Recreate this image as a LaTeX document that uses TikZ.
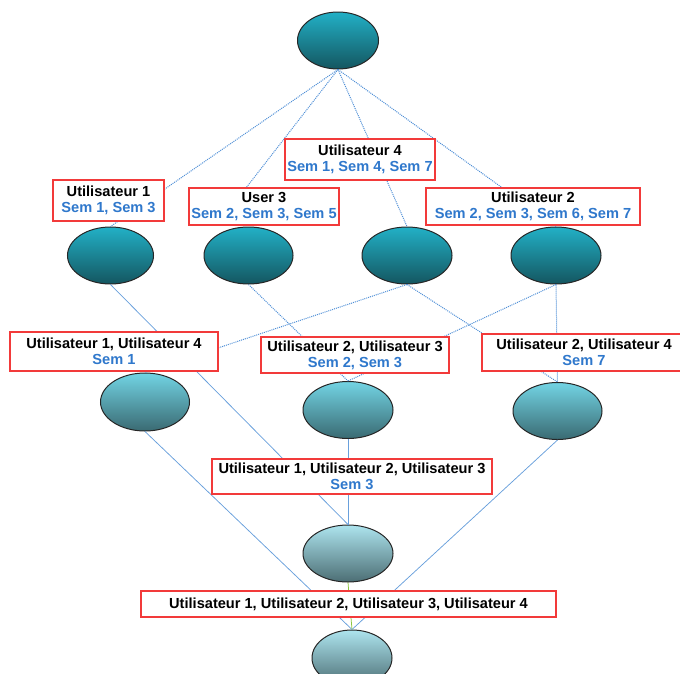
\documentclass[tikz,border=0pt]{standalone}
\usepackage{fontspec}
\setmainfont{Liberation Sans}
\usetikzlibrary{shapes.geometric}
\definecolor{edgeblue}{HTML}{4F8FD6}
\definecolor{edgegreen}{HTML}{8CC63F}
\definecolor{boxred}{HTML}{F23A3A}
\definecolor{semblue}{HTML}{2F78CC}
\definecolor{aTop}{HTML}{22B0C6}
\definecolor{aBot}{HTML}{145660}
\definecolor{bTop}{HTML}{72D4E4}
\definecolor{bBot}{HTML}{3A6A72}
\definecolor{cTop}{HTML}{ADE4EE}
\definecolor{cBot}{HTML}{4C6E74}
\tikzset{
  concept/.style={ellipse, draw=black!85, line width=1pt, inner sep=0pt},
  darkc/.style={concept, top color=aTop, bottom color=aBot},
  midc/.style={concept, top color=bTop, bottom color=bBot},
  lightc/.style={concept, top color=cTop, bottom color=cBot},
  lbl/.style={draw=boxred, line width=1.3pt, fill=white, inner sep=0pt, align=center,
    font=\bfseries\fontsize{14.6}{16.2}\selectfont},
  edgedot/.style={draw=edgeblue, line width=1pt, densely dotted},
  edgeline/.style={draw=edgeblue!85, line width=0.75pt},
  edgegr/.style={draw=edgegreen, line width=0.75pt}
}
\newcommand{\semtxt}[1]{\textcolor{semblue}{#1}}
\begin{document}
\begin{tikzpicture}[x=1pt,y=-1pt]
\useasboundingbox (0,0) rectangle (680,673);
% concepts
\node[darkc, minimum width=81pt, minimum height=57pt] (top) at (338,40.5) {};
\node[darkc, minimum width=86pt, minimum height=57pt] (e1) at (110.5,255.5) {};
\node[darkc, minimum width=89pt, minimum height=57pt] (e3) at (248.5,255.5) {};
\node[darkc, minimum width=90pt, minimum height=57pt] (e4) at (407,255.5) {};
\node[darkc, minimum width=90pt, minimum height=57pt] (e2) at (556,255.5) {};
\node[midc, minimum width=89pt, minimum height=58pt] (e14) at (145,402) {};
\node[midc, minimum width=90pt, minimum height=57pt] (e23) at (348,410) {};
\node[midc, minimum width=89pt, minimum height=57pt] (e24) at (557.5,411) {};
\node[lightc, minimum width=90pt, minimum height=57pt] (e123) at (348,553.5) {};
\node[lightc, minimum width=80pt, minimum height=56pt] (bot) at (352,658) {};
% edges
\draw[edgedot] (top.south) -- (e1.north);
\draw[edgedot, shorten >=42pt] (top.south) -- ([xshift=-10pt]e3.west);
\draw[edgedot] (top.south) -- (e4.north);
\draw[edgedot] (top.south) -- (e2.north);
\draw[edgeline] (e1.south) -- (e123.north);
\draw[edgedot] (e3.south) -- (e23.north);
\draw[edgedot] (e4.south) -- (e14.north);
\draw[edgedot] (e4.south) -- (e24.north);
\draw[edgedot] (e2.south) -- (e23.north);
\draw[edgedot] (e2.south) -- (e24.north);
\draw[edgeline] (e14.south) -- (bot.north);
\draw[edgeline] (e23.south) -- (e123.north);
\draw[edgeline] (e24.south) -- (bot.north);
\draw[edgegr] (e123.south) -- (bot.north);
% labels
\node[lbl, minimum width=111pt, minimum height=41pt] (bU1) at (108.5,200.5) {Utilisateur 1\\\semtxt{Sem 1, Sem 3}};
\node[lbl, minimum width=150pt, minimum height=37pt] (bU3) at (264,206.5) {User 3\\\semtxt{Sem 2, Sem 3, Sem 5}};
\node[lbl, minimum width=150pt, minimum height=41pt] (bU4) at (360,159.5) {Utilisateur 4\\\semtxt{Sem 1, Sem 4, Sem 7}};
\node[lbl, minimum width=214pt, minimum height=37pt] (bU2) at (533,206.5) {Utilisateur 2\\\semtxt{Sem 2, Sem 3, Sem 6, Sem 7}};
\node[lbl, minimum width=208pt, minimum height=39pt] (bU14) at (114,351.5) {Utilisateur 1, Utilisateur 4\\\semtxt{Sem 1}};
\node[lbl, minimum width=188pt, minimum height=36pt] (bU23) at (355,355) {Utilisateur 2, Utilisateur 3\\\semtxt{Sem 2, Sem 3}};
\node[lbl, minimum width=204pt, minimum height=37pt] (bU24) at (584,352.5) {Utilisateur 2, Utilisateur 4\\\semtxt{Sem 7}};
\node[lbl, minimum width=280pt, minimum height=35pt] (bU123) at (352,476.5) {Utilisateur 1, Utilisateur 2, Utilisateur 3\\\semtxt{Sem 3}};
\node[lbl, minimum width=415pt, minimum height=26pt] (bAll) at (348.5,604) {Utilisateur 1, Utilisateur 2, Utilisateur 3, Utilisateur 4};
\end{tikzpicture}
\end{document}
